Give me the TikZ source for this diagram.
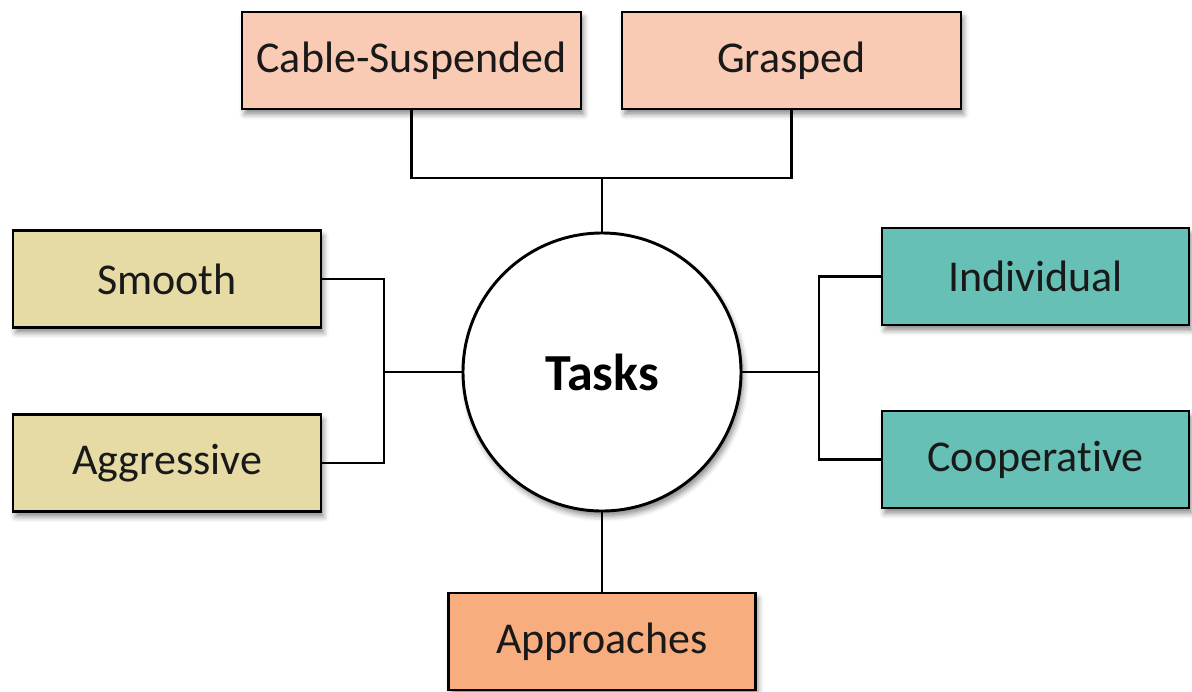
\documentclass[tikz,border=0pt]{standalone}
\usepackage{fontspec}
\setmainfont{Carlito}[Ligatures=NoCommon]
\usetikzlibrary{shadows.blur}

\definecolor{peach}{HTML}{F9CBB5}
\definecolor{tan}{HTML}{E6DBA5}
\definecolor{teal}{HTML}{67C0B5}
\definecolor{orangebox}{HTML}{F7AD7D}

\tikzset{
  soft/.style={blur shadow={shadow xshift=2pt, shadow yshift=-4pt,
      shadow blur radius=4pt, shadow opacity=45}},
  catbox/.style={draw=black, line width=2.2pt, rectangle, inner sep=0pt,
      minimum width=#1*0.75pt, minimum height=97*0.75pt,
      font=\fontsize{33}{38}\selectfont, text=black!90, soft},
  hub/.style={draw=black, line width=2.2pt, circle, fill=white, inner sep=0pt,
      minimum size=278*0.75pt, font=\fontsize{39}{44}\selectfont\bfseries, soft},
  link/.style={draw=black, line width=2.2pt}
}

\begin{document}
\begin{tikzpicture}[x=0.75pt, y=-0.75pt]
  \useasboundingbox (0,0) rectangle (1192,692);

  % centre
  \node[hub] (tasks) at (602,372) {Tasks};

  % upper group
  \node[catbox=339, fill=peach] (cs) at (411.5,60.5) {Cable-Suspended};
  \node[catbox=339, fill=peach] (gr) at (791.5,60.5) {Grasped};

  % left group
  \node[catbox=308, fill=tan] (sm) at (167,279) {Smooth};
  \node[catbox=308, fill=tan] (ag) at (167,463) {Aggressive};

  % right group
  \node[catbox=307, fill=teal] (in) at (1035.5,276.5) {Individual};
  \node[catbox=307, fill=teal] (co) at (1035.5,459.5) {Cooperative};

  % lower box
  \node[catbox=307, fill=orangebox] (ap) at (602,641.5) {Approaches};

  % bus junctions
  \coordinate (tbus) at (602,178);
  \coordinate (lbus) at (384,372);
  \coordinate (rbus) at (819,372);

  % connectors
  \draw[link] (cs.south) -- (cs.south |- tbus) -- (gr.south |- tbus) -- (gr.south);
  \draw[link] (tbus) -- (tasks.north);

  \draw[link] (sm.east) -- (sm.east -| lbus) -- (ag.east -| lbus) -- (ag.east);
  \draw[link] (lbus) -- (tasks.west);

  \draw[link] (in.west) -- (in.west -| rbus) -- (co.west -| rbus) -- (co.west);
  \draw[link] (rbus) -- (tasks.east);

  \draw[link] (tasks.south) -- (ap.north);
\end{tikzpicture}
\end{document}
